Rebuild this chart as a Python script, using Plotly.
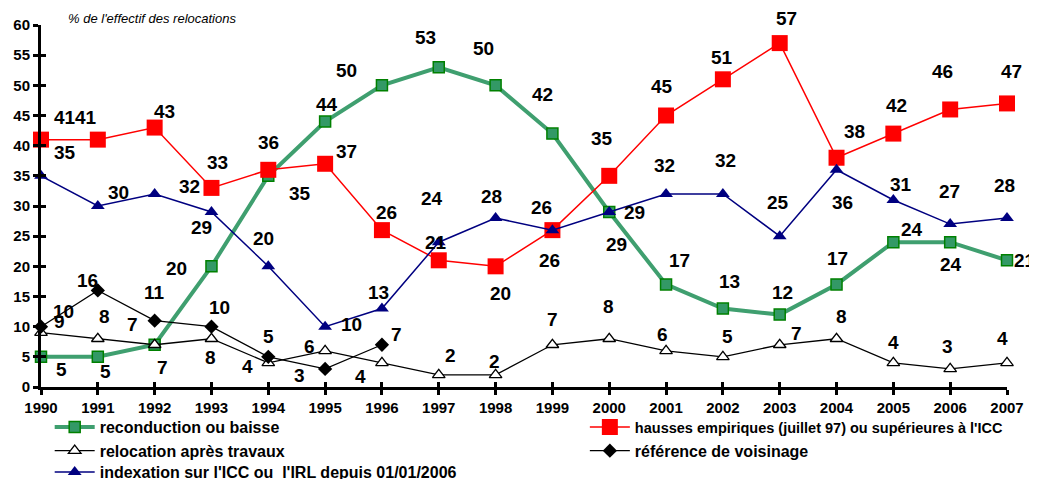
import plotly.graph_objects as go

# ---------------- data ----------------
years = list(range(1990, 2008))
year_labels = [str(y) for y in years]
reconduction = [5, 5, 7, 20, 35, 44, 50, 53, 50, 42, 29, 17, 13, 12, 17, 24, 24, 21]
hausses = [41, 41, 43, 33, 36, 37, 26, 21, 20, 26, 35, 45, 51, 57, 38, 42, 46, 47]
relocation = [9, 8, 7, 8, 4, 6, 4, 2, 2, 7, 8, 6, 5, 7, 8, 4, 3, 4]
voisinage_years = list(range(1990, 1997))
voisinage = [10, 16, 11, 10, 5, 3, 7]
indexation = [35, 30, 32, 29, 20, 10, 13, 24, 28, 26, 29, 32, 32, 25, 36, 31, 27, 28]
y_ticks = list(range(0, 61, 5))

names = {
    "rec": "<b>reconduction ou baisse</b>",
    "hau": "<b><span style='font-size:14.5px'>hausses empiriques (juillet 97) ou supérieures à l'ICC</span></b>",
    "rel": "<b>relocation après travaux</b>",
    "voi": "<b>référence de voisinage</b>",
    "ind": "<b>indexation sur l'ICC ou  l'IRL depuis 01/01/2006</b>",
}

# ------------- label offsets (pixels: dx right, dy up) -------------
off_rec = [(20, -13), (8, -15), (8, -23), (-35, -2), (32, -18), (2, 17), (-35, 15), (-13, 30),
           (-12, 37), (-10, 39), (7, -32), (13, 24), (7, 27), (3, 22), (1, 26), (19, 13), (1, -22), (18, 0)]
off_hau = [(24, 22), (-12, 22), (10, 16), (6, 25), (0, 27), (21, 12), (5, 18), (-3, 18),
           (5, -27), (-3, -30), (-7, 37), (-4, 29), (-1, 22), (7, 25), (18, 26), (3, 28), (-8, 38), (4, 32)]
off_rel = [(18, 11), (7, 22), (-22, 20), (-1, -19), (-21, -4), (-16, 4), (-21, -14), (12, 19),
           (-1, 13), (0, 25), (-1, 32), (-4, 16), (5, 20), (17, 11), (5, 22), (0, 20), (-3, 22), (-5, 24)]
off_voi = [(22, 15), (-10, 10), (0, 28), (8, 19), (0, 20), (-26, -7), (15, 10)]
off_ind = [(24, 23), (21, 14), (35, 7), (-10, -15), (-5, 28), (26, 2), (-3, 16), (-7, 44),
           (-4, 22), (-11, 23), (25, 0), (-2, 28), (3, 33), (-2, 34), (6, -33), (8, 15), (-1, 33), (-3, 33)]

FONT = "Liberation Sans, Arial, Helvetica, sans-serif"
GREEN_LINE = "#3f9f6f"
GREEN_FILL = "#339966"
GREEN_EDGE = "#008000"
NAVY = "#000080"

fig = go.Figure()

fig.add_trace(go.Scatter(
    x=years, y=reconduction, name=names["rec"], mode="lines+markers", legend="legend",
    line=dict(color=GREEN_LINE, width=4),
    marker=dict(symbol="square", size=11, color=GREEN_FILL, line=dict(color=GREEN_EDGE, width=1.5)),
    cliponaxis=False,
))
fig.add_trace(go.Scatter(
    x=years, y=hausses, name=names["hau"], mode="lines+markers", legend="legend2",
    line=dict(color="#ff0000", width=1.5),
    marker=dict(symbol="square", size=16, color="#ff0000", line=dict(color="#ff0000", width=0)),
    cliponaxis=False,
))
fig.add_trace(go.Scatter(
    x=years, y=relocation, name=names["rel"], mode="lines+markers", legend="legend",
    line=dict(color="black", width=1.3),
    marker=dict(symbol="triangle-up", size=11, color="white", line=dict(color="black", width=1.3)),
    cliponaxis=False,
))
fig.add_trace(go.Scatter(
    x=voisinage_years, y=voisinage, name=names["voi"], mode="lines+markers", legend="legend2",
    line=dict(color="black", width=1.3),
    marker=dict(symbol="diamond", size=11, color="black"),
    cliponaxis=False,
))
fig.add_trace(go.Scatter(
    x=years, y=indexation, name=names["ind"], mode="lines+markers", legend="legend3",
    line=dict(color=NAVY, width=1.5),
    marker=dict(symbol="triangle-up", size=12, color=NAVY, line=dict(color=NAVY, width=0)),
    cliponaxis=False,
))
# invisible trace to materialise the overlay axes (inner half of the crossing ticks)
fig.add_trace(go.Scatter(x=[years[0]], y=[y_ticks[0]], xaxis="x2", yaxis="y2", mode="markers",
                         marker=dict(opacity=0), showlegend=False, hoverinfo="skip"))

annotations = []
def add_labels(xs, ys, offs):
    for xv, yv, (dx, dy) in zip(xs, ys, offs):
        annotations.append(dict(
            x=xv, y=yv, xref="x", yref="y", text=f"<b>{yv}</b>", showarrow=False,
            xshift=dx, yshift=dy, font=dict(family=FONT, size=19, color="black"),
        ))

add_labels(years, reconduction, off_rec)
add_labels(years, hausses, off_hau)
add_labels(years, relocation, off_rel)
add_labels(voisinage_years, voisinage, off_voi)
add_labels(years, indexation, off_ind)

annotations.append(dict(
    x=0.026, y=1.0, xref="paper", yref="paper", xanchor="left", yanchor="bottom",
    text="<i>% de l'effectif des relocations</i>", showarrow=False,
    font=dict(family=FONT, size=13, color="black"), yshift=-3,
))
annotations.append(dict(
    x=0.277, y=1.0, xref="paper", yref="paper", xanchor="left", yanchor="middle",
    text="<i>Source : OLAP</i>", showarrow=False, yshift=27,
    font=dict(family=FONT, size=13, color="black"),
))

axis_common = dict(showgrid=False, zeroline=False, showline=True, linecolor="black", linewidth=3,
                   ticks="outside", ticklen=5, tickwidth=2.5, tickcolor="black", automargin=False,
                   tickfont=dict(family=FONT, size=15, color="black"))

legend_common = dict(orientation="v", xanchor="left", yanchor="top", itemwidth=40,
                     font=dict(family=FONT, size=16, color="black"),
                     bgcolor="rgba(0,0,0,0)", traceorder="normal")

fig.update_layout(
    width=1037, height=479,
    # the page body adds an 8px offset, compensated here
    margin=dict(l=33, r=38, t=17, b=100, autoexpand=False),
    paper_bgcolor="white", plot_bgcolor="white",
    font=dict(family=FONT, color="black"),
    xaxis=dict(range=[years[0], years[-1]], tickvals=years,
               ticktext=[f"<b>{t}</b>" for t in year_labels], **axis_common),
    yaxis=dict(range=[y_ticks[0], y_ticks[-1]], tickvals=y_ticks,
               ticktext=[f"<b>{t}</b>" for t in y_ticks], **axis_common),
    xaxis2=dict(overlaying="x", range=[years[0], years[-1]], tickvals=years, showticklabels=False,
                showgrid=False, zeroline=False, showline=False, ticks="inside", ticklen=5,
                tickwidth=2.5, tickcolor="black", anchor="y2", side="bottom"),
    yaxis2=dict(overlaying="y", range=[y_ticks[0], y_ticks[-1]], tickvals=y_ticks, showticklabels=False,
                showgrid=False, zeroline=False, showline=False, ticks="inside", ticklen=5,
                tickwidth=2.5, tickcolor="black", anchor="x2", side="left"),
    legend=dict(x=0.009, y=-0.0635, **legend_common),
    legend2=dict(x=0.563, y=-0.0635, **legend_common),
    legend3=dict(x=0.009, y=-0.188, **legend_common),
    annotations=annotations,
    showlegend=True,
)

fig.write_html("out.html")
